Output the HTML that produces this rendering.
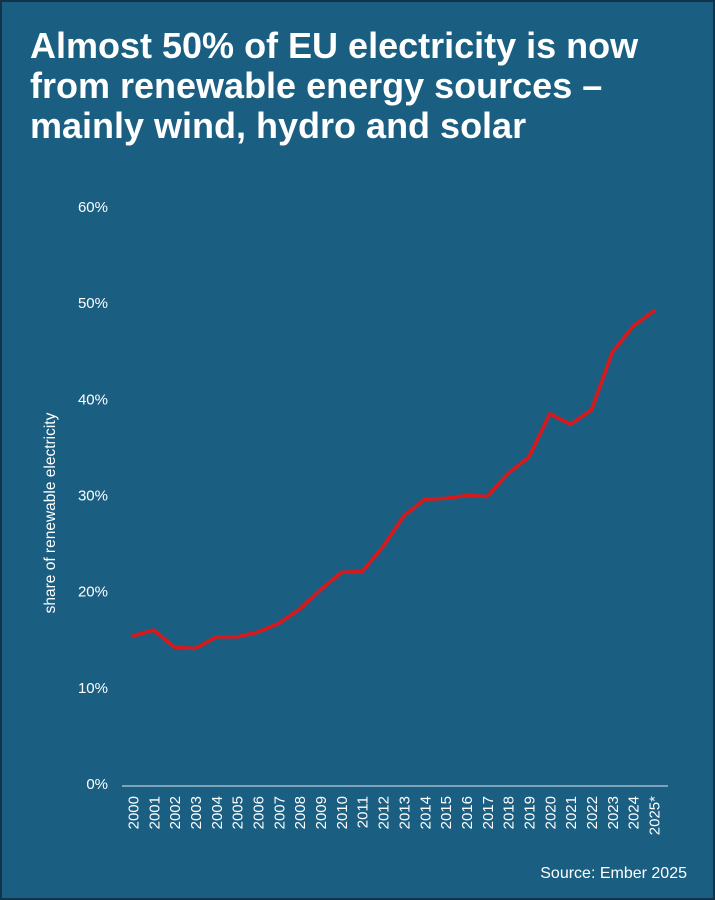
<!DOCTYPE html>
<html><head><meta charset="utf-8"><style>
html,body{margin:0;padding:0}
body{width:715px;height:900px;background:#1a5f82;font-family:"Liberation Sans",Arial,sans-serif;overflow:hidden}
#frame{position:absolute;left:0;top:0;width:711px;height:896px;border:2px solid #12334a}
h1{position:absolute;left:30px;top:26px;margin:0;color:#fff;font-size:36px;font-weight:bold;line-height:40px;letter-spacing:0;white-space:nowrap}
#src{position:absolute;right:28px;top:865px;color:#fff;font-size:16px}
svg{position:absolute;left:0;top:0}
</style></head><body>
<div id="frame"></div>
<h1>Almost 50% of EU electricity is now<br>from renewable energy sources –<br>mainly wind, hydro and solar</h1>
<svg id="chart" width="715" height="900"></svg>
<div id="src">Source: Ember 2025</div>
<script>
const years=["2000","2001","2002","2003","2004","2005","2006","2007","2008","2009","2010","2011","2012","2013","2014","2015","2016","2017","2018","2019","2020","2021","2022","2023","2024","2025*"];
const shares=[15.4,16.0,14.2,14.1,15.3,15.3,15.8,16.7,18.2,20.2,22.0,22.1,24.7,27.9,29.6,29.7,30.0,29.9,32.3,34.0,38.5,37.4,38.9,44.9,47.6,49.2];
const yTicks=[0,10,20,30,40,50,60];
const NS="http://www.w3.org/2000/svg";
const svg=document.getElementById('chart');
const x=i=>133+i*(654-133)/(years.length-1);
const y=v=>784-v*(784-207)/60;
function mk(t,a){const e=document.createElementNS(NS,t);for(const k in a)e.setAttribute(k,a[k]);svg.appendChild(e);return e;}
yTicks.forEach(v=>{
  const t=mk('text',{x:108,y:y(v)+5,'text-anchor':'end',fill:'#fff','font-size':15,'font-family':'Liberation Sans, sans-serif'});
  t.textContent=v+'%';
  
  
});
const ax=mk('line',{x1:122,x2:668,y1:786,y2:786,stroke:'#9fb9c8','stroke-width':1.5});


years.forEach((yr,i)=>{
  const t=mk('text',{x:0,y:0,'text-anchor':'end',fill:'#fff','font-size':15,'font-family':'Liberation Sans, sans-serif',transform:`translate(${x(i)+5.5},796) rotate(-90)`});
  t.textContent=yr;
  
  
});
const yt=mk('text',{x:0,y:0,'text-anchor':'middle',fill:'#fff','font-size':15.5,'font-family':'Liberation Sans, sans-serif',transform:'translate(55,513) rotate(-90)'});
yt.textContent='share of renewable electricity';


const p=mk('polyline',{points:shares.map((v,i)=>x(i)+','+y(v)).join(' '),fill:'none',stroke:'#d7191c','stroke-width':3.6,'stroke-linejoin':'round','stroke-linecap':'round'});


</script>
</body></html>
